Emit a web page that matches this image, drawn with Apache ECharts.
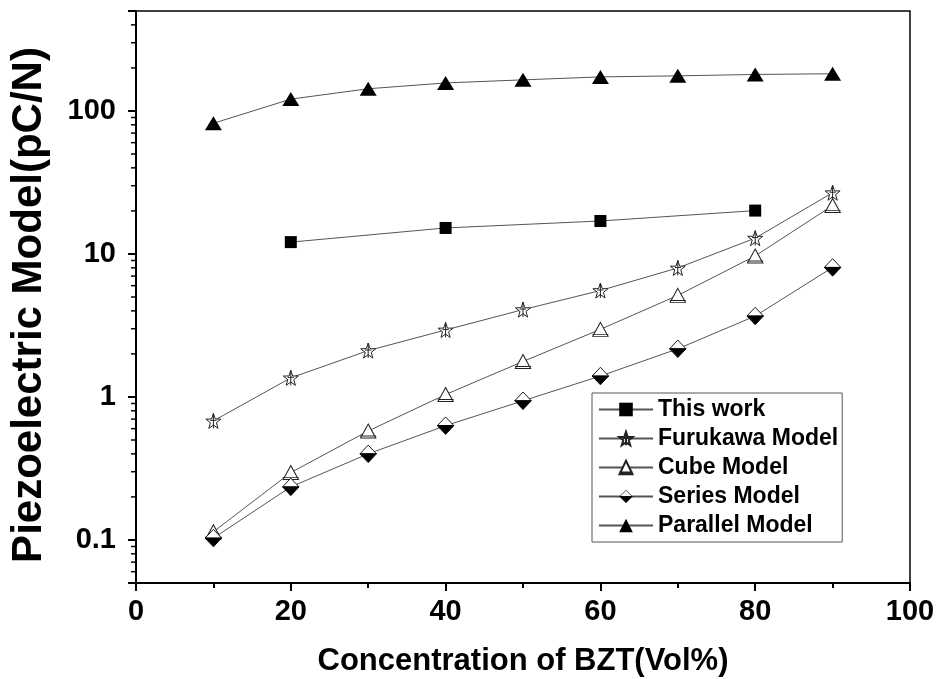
<!DOCTYPE html>
<html>
<head>
<meta charset="utf-8">
<title>Piezoelectric Model vs BZT concentration</title>
<script src="https://cdn.jsdelivr.net/npm/echarts@6/dist/echarts.min.js"></script>
<style>
  html, body { margin: 0; padding: 0; background: #fff; }
  #chart { width: 941px; height: 679px; }
</style>
</head>
<body>
<div id="chart"></div>
<script>
// BZT volume fraction (%)
const concentration = [10, 20, 30, 40, 50, 60, 70, 80, 90];
const thisWorkX = [20, 40, 60, 80];

// piezoelectric coefficient d33 (pC/N)
const thisWork = [12.1, 15.2, 17.0, 20.1];
const furukawa = [0.68, 1.36, 2.11, 2.94, 4.08, 5.55, 7.98, 12.9, 26.8];
const cube = [0.114, 0.296, 0.578, 1.04, 1.77, 2.97, 5.13, 9.68, 21.8];
const seriesModel = [0.103, 0.235, 0.40, 0.63, 0.94, 1.40, 2.17, 3.68, 8.05];
const parallel = [82, 121, 143, 157, 165, 173, 176, 180, 182];

const yTickLabels = ['0.1', '1', '10', '100'];
const xTickLabels = ['0', '20', '40', '60', '80', '100'];

const FONT = "'Liberation Sans', Arial, sans-serif";

// minor ticks of the log axis at 2..9 of each decade
const yMinor = [];
for (let k = -2; k <= 2; k++) {
  for (let d = 2; d <= 9; d++) {
    const v = d * Math.pow(10, k);
    if (v > 0.05 && v < 500) yMinor.push([0, v]);
  }
}

const pair = (xs, ys) => xs.map((x, i) => [x, ys[i]]);

// open star with centre strokes
const starPath = 'path://M50 5 L61.8 38.8 L97.6 39.5 L69 61.2 L79.4 95.5 L50 75 L20.6 95.5 L31 61.2 L2.4 39.5 L38.2 38.8 Z M50 5 L50 95 M30 47 L70 47';
// open triangle with a second base line
const cubePath = 'path://M50 2 L96 88 L4 88 Z M2 76 L98 76';
// diamond: white upper half, black lower half
const diamondSvg = "<svg xmlns='http://www.w3.org/2000/svg' width='36' height='38' viewBox='0 0 36 38'>" +
  "<path d='M1.5 19 L18 1.5 L34.5 19 Z' fill='white' stroke='black' stroke-width='1.8'/>" +
  "<path d='M1.5 19 L18 36.5 L34.5 19 Z' fill='black' stroke='black' stroke-width='1.8'/></svg>";
const diamondImg = 'image://data:image/svg+xml;charset=utf-8,' + encodeURIComponent(diamondSvg);

const lineStyle = { color: '#555', width: 1 };

const chart = echarts.init(document.getElementById('chart'), null, { renderer: 'canvas' });

chart.setOption({
  animation: false,
  backgroundColor: '#fff',
  grid: {
    left: 136, top: 11, right: 31, bottom: 96,
    outerBoundsMode: 'none', containLabel: false,
    show: true, borderColor: '#000', borderWidth: 1.5, backgroundColor: 'transparent'
  },
  legend: {
    orient: 'vertical',
    left: 592, top: 393,
    padding: [5, 4, 5, 6],
    itemWidth: 54, itemHeight: 17, itemGap: 6,
    borderColor: '#555', borderWidth: 1, backgroundColor: '#fff',
    textStyle: { fontFamily: FONT, fontSize: 23, fontWeight: 'bold', color: '#000' },
    data: ['This work', 'Furukawa Model', 'Cube Model', 'Series Model', 'Parallel Model']
  },
  xAxis: {
    type: 'value', min: 0, max: 100, interval: 20,
    name: 'Concentration of BZT(Vol%)', nameLocation: 'middle', nameGap: 63,
    nameTextStyle: { fontFamily: FONT, fontSize: 31, fontWeight: 'bold', color: '#000' },
    axisLine: { show: true, lineStyle: { color: '#000', width: 2 } },
    axisTick: { show: true, inside: false, length: 8, lineStyle: { color: '#000', width: 2 } },
    minorTick: { show: true, splitNumber: 2, length: 5, lineStyle: { color: '#000', width: 2 } },
    axisLabel: {
      margin: 14, fontFamily: FONT, fontSize: 29, fontWeight: 'bold', color: '#000',
      formatter: v => xTickLabels[Math.round(v / 20)] ?? ''
    },
    splitLine: { show: false }
  },
  yAxis: {
    type: 'log', logBase: 10, min: 0.05, max: 500,
    name: 'Piezoelectric Model(pC/N)', nameLocation: 'middle', nameGap: 86, nameRotate: 90,
    nameTextStyle: { fontFamily: FONT, fontSize: 42, fontWeight: 'bold', color: '#000', padding: [0, 16, 0, 0] },
    axisLine: { show: true, lineStyle: { color: '#000', width: 2 } },
    axisTick: { show: true, inside: false, length: 8, lineStyle: { color: '#000', width: 2 } },
    minorTick: { show: false },
    axisLabel: {
      margin: 20, fontFamily: FONT, fontSize: 29, fontWeight: 'bold', color: '#000',
      formatter: v => {
        const e = Math.log10(v);
        const r = Math.round(e);
        return Math.abs(e - r) < 1e-6 ? (yTickLabels[r + 1] ?? '') : '';
      }
    },
    splitLine: { show: false }
  },
  series: [
    {
      name: 'This work', type: 'line', data: pair(thisWorkX, thisWork),
      symbol: 'rect', symbolSize: 12, lineStyle,
      itemStyle: { color: '#000' }, z: 3
    },
    {
      name: 'Furukawa Model', type: 'line', data: pair(concentration, furukawa),
      symbol: starPath, symbolSize: 15, lineStyle,
      itemStyle: { color: '#fff', borderColor: '#222', borderWidth: 1 }, z: 3
    },
    {
      name: 'Cube Model', type: 'line', data: pair(concentration, cube),
      symbol: cubePath, symbolSize: [16, 14], lineStyle,
      itemStyle: { color: '#fff', borderColor: '#222', borderWidth: 1 }, z: 3
    },
    {
      name: 'Series Model', type: 'line', data: pair(concentration, seriesModel),
      symbol: diamondImg, symbolSize: [18, 19], lineStyle,
      itemStyle: { color: '#000' }, z: 3
    },
    {
      name: 'Parallel Model', type: 'line', data: pair(concentration, parallel),
      symbol: 'triangle', symbolSize: [17, 14], lineStyle,
      itemStyle: { color: '#000' }, z: 3
    },
    {
      type: 'custom', silent: true, clip: false, z: 6,
      data: yMinor,
      renderItem: (params, api) => {
        const p = api.coord([0, api.value(1)]);
        return {
          type: 'line',
          shape: { x1: p[0] - 5, y1: p[1], x2: p[0], y2: p[1] },
          style: { stroke: '#000', lineWidth: 1.5 }
        };
      }
    }
  ]
});
</script>
</body>
</html>
